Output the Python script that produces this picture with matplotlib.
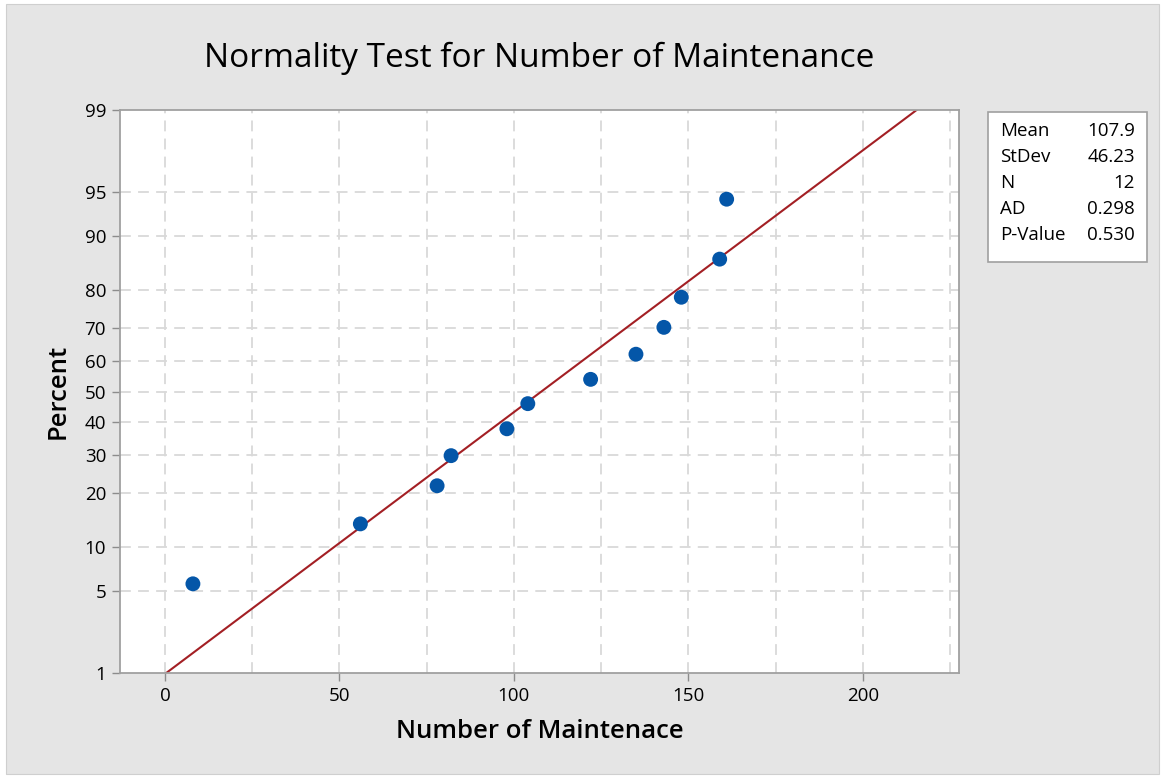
from statistics import NormalDist

import matplotlib
matplotlib.use("Agg")
import matplotlib.pyplot as plt
from matplotlib.patches import Rectangle

maintenance = [8, 56, 78, 82, 98, 104, 122, 135, 143, 148, 159, 161]
percent = [5.6, 13.7, 21.8, 29.8, 37.9, 46.0, 54.0, 62.1, 70.2, 78.2, 86.3, 94.4]
y_ticks = [1, 5, 10, 20, 30, 40, 50, 60, 70, 80, 90, 95, 99]
x_ticks = [0, 50, 100, 150, 200]
x_grid = [0, 25, 50, 75, 100, 125, 150, 175, 200, 225]

mean = 107.9
stdev = 46.23
stats_names = ["Mean", "StDev", "N", "AD", "P-Value"]
stats_values = ["107.9", "46.23", "12", "0.298", "0.530"]

nd = NormalDist()


def z(p):
    return nd.inv_cdf(p / 100.0)


plt.rcParams["font.family"] = ["Open Sans", "DejaVu Sans"]

fig = plt.figure(figsize=(11.65, 7.78), dpi=100, facecolor="white")
fig.patches.append(Rectangle((6 / 1165, 4 / 778), 1153 / 1165, 770 / 778,
                             transform=fig.transFigure, facecolor="#e5e5e5",
                             edgecolor="#cfcfcf", lw=0.8, zorder=-10))

ax = fig.add_axes([120 / 1165, 1 - 673 / 778, 839 / 1165, 563 / 778])
ax.set_facecolor("white")

# grid
for g in x_grid:
    ax.axvline(g, color="#d9d9d9", lw=1.3, ls=(0, (6, 4)), zorder=0)
for p in y_ticks[1:-1]:
    ax.axhline(z(p), color="#d9d9d9", lw=1.3, ls=(0, (6, 4)), zorder=0)

# fitted line
line_p = [1, 99]
line_x = [mean + stdev * z(p) for p in line_p]
ax.plot(line_x, [z(p) for p in line_p], color="#a31f24", lw=1.5, zorder=2)

ax.scatter(maintenance, [z(p) for p in percent], s=115, color="#0456a8",
           edgecolors="none", zorder=3)

ax.set_xlim(-12.9, 227.6)
ax.set_ylim(z(1), z(99))
ax.set_xticks(x_ticks)
ax.set_xticklabels([str(t) for t in x_ticks])
ax.set_yticks([z(p) for p in y_ticks])
ax.set_yticklabels([str(p) for p in y_ticks])
ax.tick_params(axis="both", direction="out", length=6, width=1, color="#8c8c8c",
               labelsize=13.5, pad=4)

for s in ax.spines.values():
    s.set_color("#a0a0a0")
    s.set_linewidth(1.3)

ax.set_xlabel("Number of Maintenace", fontsize=18.5, fontweight="semibold", labelpad=10)
ax.set_ylabel("Percent", fontsize=18.5, fontweight="semibold", labelpad=10)
fig.text(539.5 / 1165, 1 - 58 / 778, "Normality Test for Number of Maintenance",
         ha="center", va="center", fontsize=24)

# stats box
fig.patches.append(Rectangle((988 / 1165, 1 - 262 / 778), 159 / 1165, 150 / 778,
                             transform=fig.transFigure, facecolor="white",
                             edgecolor="#a0a0a0", lw=1.2))
for i, (n, v) in enumerate(zip(stats_names, stats_values)):
    yy = 1 - (131 + i * 26) / 778
    fig.text(1000 / 1165, yy, n, ha="left", va="center", fontsize=13.5)
    fig.text(1135 / 1165, yy, v, ha="right", va="center", fontsize=13.5)

fig.savefig("out.png", dpi=100, facecolor=fig.get_facecolor())
